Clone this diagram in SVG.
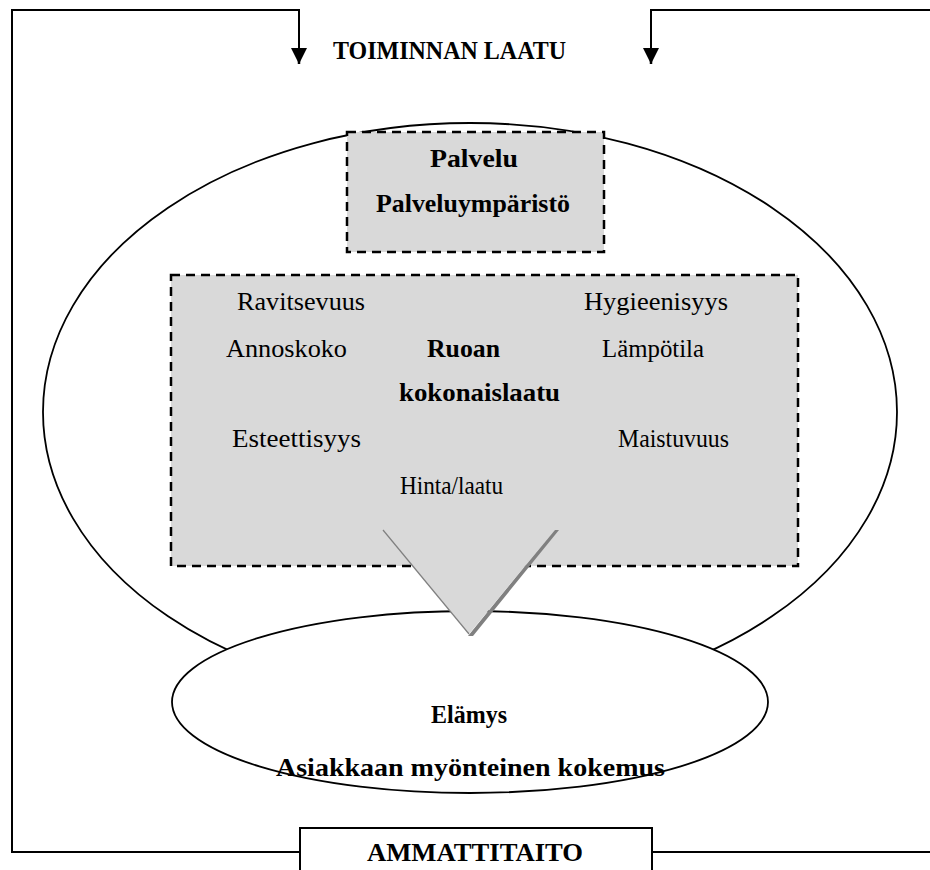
<svg xmlns="http://www.w3.org/2000/svg" width="930" height="870" viewBox="0 0 930 870">
<style>
.ln{fill:none;stroke:#000;stroke-width:2}
.dash{fill:#d9d9d9;stroke:#000;stroke-width:2.5;stroke-dasharray:9 6}
.t{font-family:"Liberation Serif","Times New Roman",serif;font-size:25px;fill:#000}
.b{font-weight:bold}
</style>
<defs>
<marker id="ah2" viewBox="0 0 16 16" refX="16" refY="8" markerWidth="16" markerHeight="16" markerUnits="userSpaceOnUse" orient="auto">
<path d="M0,0 L16,8 L0,16 z" fill="#000"/>
</marker>
</defs>
<rect width="930" height="870" fill="#fff"/>
<g id="connectors">
<path class="ln" d="M300,852 H12 V10 H299 V50" />
<path d="M299,50 V64" stroke="#000" stroke-width="2.5" marker-end="url(#ah2)"/>
<path class="ln" d="M652,852 H930"/>
<path class="ln" d="M930,10 H651 V50"/>
<path d="M651,50 V64" stroke="#000" stroke-width="2.5" marker-end="url(#ah2)"/>
</g>
<g id="toiminnan-laatu">
<text class="t b" x="333" y="59" textLength="233" lengthAdjust="spacingAndGlyphs">TOIMINNAN LAATU</text>
</g>
<g id="ympyra">
<ellipse cx="470" cy="412" rx="427" ry="289" fill="#fff" stroke="#000" stroke-width="1.8"/>
</g>
<g id="palvelu">
<rect class="dash" x="347" y="132" width="257" height="120"/>
<text class="t b" x="430" y="167" textLength="88" lengthAdjust="spacingAndGlyphs">Palvelu</text>
<text class="t b" x="376" y="212" textLength="194" lengthAdjust="spacingAndGlyphs">Palveluympäristö</text>
</g>
<g id="ruoan-kokonaislaatu">
<rect class="dash" x="171" y="275" width="627" height="291"/>
<text class="t" x="237" y="310" textLength="128" lengthAdjust="spacingAndGlyphs">Ravitsevuus</text>
<text class="t" x="584" y="310" textLength="144" lengthAdjust="spacingAndGlyphs">Hygieenisyys</text>
<text class="t" x="226" y="357" textLength="121" lengthAdjust="spacingAndGlyphs">Annoskoko</text>
<text class="t b" x="427" y="357" textLength="73" lengthAdjust="spacingAndGlyphs">Ruoan</text>
<text class="t" x="602" y="357" textLength="102" lengthAdjust="spacingAndGlyphs">Lämpötila</text>
<text class="t b" x="399" y="401" textLength="161" lengthAdjust="spacingAndGlyphs">kokonaislaatu</text>
<text class="t" x="232" y="447" textLength="129" lengthAdjust="spacingAndGlyphs">Esteettisyys</text>
<text class="t" x="618" y="447" textLength="111" lengthAdjust="spacingAndGlyphs">Maistuvuus</text>
<text class="t" x="400" y="494" textLength="103" lengthAdjust="spacingAndGlyphs">Hinta/laatu</text>
</g>
<g id="elamys">
<ellipse cx="470" cy="702" rx="298" ry="91" fill="#fff" stroke="#000" stroke-width="1.8"/>
<text class="t b" x="431" y="723" textLength="76" lengthAdjust="spacingAndGlyphs">Elämys</text>
<text class="t b" x="276" y="776" textLength="389" lengthAdjust="spacingAndGlyphs">Asiakkaan myönteinen kokemus</text>
</g>
<g id="nuoli">
<path d="M554,530 L468,636 L473,636 L559,530 z" fill="#808080"/>
<path d="M383,530 L555,530 L469,634 z" fill="#d9d9d9"/>
<path d="M383,530 L469,634" stroke="#808080" stroke-width="1.2" fill="none"/>
</g>
<g id="ammattitaito">
<rect x="300" y="828" width="352" height="50" fill="#fff" stroke="#000" stroke-width="2"/>
<text class="t b" x="367" y="861" textLength="216" lengthAdjust="spacingAndGlyphs">AMMATTITAITO</text>
</g>
</svg>
